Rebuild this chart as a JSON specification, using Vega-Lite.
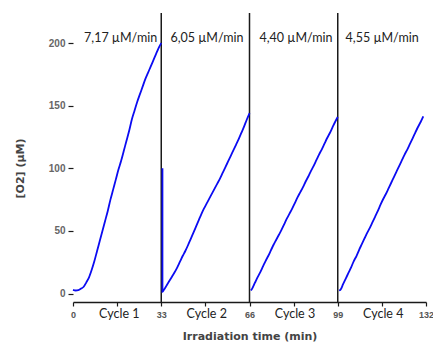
{
  "$schema": "https://vega.github.io/schema/vega-lite/v6.json",
  "autosize": {"type": "none"},
  "width": 353,
  "height": 289,
  "padding": {"left": 73, "top": 13, "right": 7, "bottom": 40},
  "background": "white",
  "config": {"view": {"stroke": null}},
  "datasets": {
    "o2": [
      {"t": 0, "o2": 3, "cycle": "1"}, {"t": 1, "o2": 2.5, "cycle": "1"}, {"t": 2, "o2": 2.8, "cycle": "1"}, {"t": 3, "o2": 4, "cycle": "1"}, {"t": 4, "o2": 5.5, "cycle": "1"}, {"t": 5, "o2": 9, "cycle": "1"}, {"t": 6, "o2": 13, "cycle": "1"}, {"t": 7, "o2": 19, "cycle": "1"}, {"t": 8, "o2": 26, "cycle": "1"}, {"t": 9, "o2": 34, "cycle": "1"}, {"t": 10, "o2": 42, "cycle": "1"}, {"t": 11, "o2": 50, "cycle": "1"}, {"t": 12, "o2": 58, "cycle": "1"}, {"t": 13, "o2": 66, "cycle": "1"}, {"t": 14, "o2": 75, "cycle": "1"}, {"t": 15, "o2": 83, "cycle": "1"}, {"t": 16, "o2": 91, "cycle": "1"}, {"t": 17, "o2": 99, "cycle": "1"}, {"t": 18, "o2": 106, "cycle": "1"}, {"t": 19, "o2": 114, "cycle": "1"}, {"t": 20, "o2": 122, "cycle": "1"}, {"t": 21, "o2": 130, "cycle": "1"}, {"t": 22, "o2": 139, "cycle": "1"}, {"t": 23, "o2": 146, "cycle": "1"}, {"t": 24, "o2": 153, "cycle": "1"}, {"t": 25, "o2": 159, "cycle": "1"}, {"t": 26, "o2": 165, "cycle": "1"}, {"t": 27, "o2": 171, "cycle": "1"}, {"t": 28, "o2": 176, "cycle": "1"}, {"t": 29, "o2": 181, "cycle": "1"}, {"t": 30, "o2": 186, "cycle": "1"}, {"t": 31, "o2": 191, "cycle": "1"}, {"t": 32, "o2": 196, "cycle": "1"}, {"t": 33, "o2": 200, "cycle": "1"},
      {"t": 33.45, "o2": 100, "cycle": "2"}, {"t": 33.45, "o2": 1.5, "cycle": "2"}, {"t": 34, "o2": 3, "cycle": "2"}, {"t": 35, "o2": 6.5, "cycle": "2"}, {"t": 36, "o2": 10, "cycle": "2"}, {"t": 37, "o2": 13.5, "cycle": "2"}, {"t": 38, "o2": 17, "cycle": "2"}, {"t": 39, "o2": 21, "cycle": "2"}, {"t": 40, "o2": 25.5, "cycle": "2"}, {"t": 41, "o2": 30, "cycle": "2"}, {"t": 42, "o2": 34, "cycle": "2"}, {"t": 43, "o2": 38.6, "cycle": "2"}, {"t": 44, "o2": 43.5, "cycle": "2"}, {"t": 45, "o2": 48.5, "cycle": "2"}, {"t": 46, "o2": 53.5, "cycle": "2"}, {"t": 47, "o2": 58.5, "cycle": "2"}, {"t": 48, "o2": 63.5, "cycle": "2"}, {"t": 49, "o2": 68, "cycle": "2"}, {"t": 50, "o2": 72, "cycle": "2"}, {"t": 51, "o2": 76, "cycle": "2"}, {"t": 52, "o2": 80, "cycle": "2"}, {"t": 53, "o2": 84, "cycle": "2"}, {"t": 54, "o2": 88, "cycle": "2"}, {"t": 55, "o2": 92, "cycle": "2"}, {"t": 56, "o2": 96.5, "cycle": "2"}, {"t": 57, "o2": 101, "cycle": "2"}, {"t": 58, "o2": 105.5, "cycle": "2"}, {"t": 59, "o2": 110, "cycle": "2"}, {"t": 60, "o2": 114.5, "cycle": "2"}, {"t": 61, "o2": 119, "cycle": "2"}, {"t": 62, "o2": 123.5, "cycle": "2"}, {"t": 63, "o2": 128.5, "cycle": "2"}, {"t": 64, "o2": 133.5, "cycle": "2"}, {"t": 65, "o2": 139, "cycle": "2"}, {"t": 66, "o2": 144, "cycle": "2"},
      {"t": 66.5, "o2": 2.5, "cycle": "3"}, {"t": 67, "o2": 4, "cycle": "3"}, {"t": 68, "o2": 8.5, "cycle": "3"}, {"t": 69, "o2": 13, "cycle": "3"}, {"t": 70, "o2": 17, "cycle": "3"}, {"t": 71, "o2": 21.5, "cycle": "3"}, {"t": 72, "o2": 26, "cycle": "3"}, {"t": 73, "o2": 30, "cycle": "3"}, {"t": 74, "o2": 34.5, "cycle": "3"}, {"t": 75, "o2": 39, "cycle": "3"}, {"t": 76, "o2": 43, "cycle": "3"}, {"t": 77, "o2": 47, "cycle": "3"}, {"t": 78, "o2": 51, "cycle": "3"}, {"t": 79, "o2": 55.5, "cycle": "3"}, {"t": 80, "o2": 60, "cycle": "3"}, {"t": 81, "o2": 64, "cycle": "3"}, {"t": 82, "o2": 68, "cycle": "3"}, {"t": 83, "o2": 72.5, "cycle": "3"}, {"t": 84, "o2": 77, "cycle": "3"}, {"t": 85, "o2": 81, "cycle": "3"}, {"t": 86, "o2": 85, "cycle": "3"}, {"t": 87, "o2": 89.5, "cycle": "3"}, {"t": 88, "o2": 93.5, "cycle": "3"}, {"t": 89, "o2": 98, "cycle": "3"}, {"t": 90, "o2": 102, "cycle": "3"}, {"t": 91, "o2": 106.5, "cycle": "3"}, {"t": 92, "o2": 111, "cycle": "3"}, {"t": 93, "o2": 115, "cycle": "3"}, {"t": 94, "o2": 119.5, "cycle": "3"}, {"t": 95, "o2": 124, "cycle": "3"}, {"t": 96, "o2": 128, "cycle": "3"}, {"t": 97, "o2": 132.5, "cycle": "3"}, {"t": 98, "o2": 137, "cycle": "3"}, {"t": 99, "o2": 141, "cycle": "3"},
      {"t": 99.5, "o2": 2.5, "cycle": "4"}, {"t": 100, "o2": 3, "cycle": "4"}, {"t": 101, "o2": 7.5, "cycle": "4"}, {"t": 102, "o2": 12, "cycle": "4"}, {"t": 103, "o2": 16.5, "cycle": "4"}, {"t": 104, "o2": 21, "cycle": "4"}, {"t": 105, "o2": 26, "cycle": "4"}, {"t": 106, "o2": 30, "cycle": "4"}, {"t": 107, "o2": 35, "cycle": "4"}, {"t": 108, "o2": 39.5, "cycle": "4"}, {"t": 109, "o2": 44, "cycle": "4"}, {"t": 110, "o2": 48.5, "cycle": "4"}, {"t": 111, "o2": 52.5, "cycle": "4"}, {"t": 112, "o2": 57, "cycle": "4"}, {"t": 113, "o2": 61.5, "cycle": "4"}, {"t": 114, "o2": 66, "cycle": "4"}, {"t": 115, "o2": 71, "cycle": "4"}, {"t": 116, "o2": 75.5, "cycle": "4"}, {"t": 117, "o2": 79.5, "cycle": "4"}, {"t": 118, "o2": 84, "cycle": "4"}, {"t": 119, "o2": 88.5, "cycle": "4"}, {"t": 120, "o2": 93, "cycle": "4"}, {"t": 121, "o2": 97.5, "cycle": "4"}, {"t": 122, "o2": 102, "cycle": "4"}, {"t": 123, "o2": 106.5, "cycle": "4"}, {"t": 124, "o2": 111, "cycle": "4"}, {"t": 125, "o2": 115, "cycle": "4"}, {"t": 126, "o2": 119.5, "cycle": "4"}, {"t": 127, "o2": 124, "cycle": "4"}, {"t": 128, "o2": 128.5, "cycle": "4"}, {"t": 129, "o2": 133, "cycle": "4"}, {"t": 130, "o2": 137, "cycle": "4"}, {"t": 131, "o2": 141.5, "cycle": "4"}
    ],
    "bounds": [{"t": 33}, {"t": 66}, {"t": 99}],
    "rates": [
      {"t": 17.8, "label": "7,17 µM/min"},
      {"t": 50.1, "label": "6,05 µM/min"},
      {"t": 83.4, "label": "4,40 µM/min"},
      {"t": 115.6, "label": "4,55 µM/min"}
    ],
    "cycles": [
      {"t": 17.3, "label": "Cycle 1"},
      {"t": 50, "label": "Cycle 2"},
      {"t": 83, "label": "Cycle 3"},
      {"t": 116, "label": "Cycle 4"}
    ]
  },
  "layer": [
    {
      "data": {"name": "bounds"},
      "mark": {"type": "rule", "color": "#1a1a1a", "strokeWidth": 1.5},
      "encoding": {
        "x": {
          "field": "t", "type": "quantitative",
          "scale": {"domain": [0, 132], "nice": false, "zero": false},
          "axis": {
            "values": [0, 16.5, 33, 49.5, 66, 82.5, 99, 115.5, 132],
            "labelExpr": "datum.value % 33 === 0 ? format(datum.value, 'd') : ''",
            "grid": false,
            "domainColor": "#1a1a1a", "domainWidth": 1.5,
            "tickColor": "#1a1a1a", "tickWidth": 1.2, "tickSize": 4,
            "labelFont": "Liberation Sans", "labelFontSize": 9, "labelFontWeight": "bold", "labelColor": "#555555",
            "labelPadding": 4, "labelFlush": false, "labelOverlap": false,
            "title": "Irradiation time (min)",
            "titleFont": "DejaVu Sans", "titleFontSize": 11, "titleFontWeight": "bold", "titleColor": "#444444",
            "titleBaseline": "middle", "titleY": 34
          }
        }
      }
    },
    {
      "mark": {"type": "rule", "color": "#1a1a1a", "strokeWidth": 1.5},
      "encoding": {
        "x": {"datum": 0, "type": "quantitative"},
        "y": {"datum": -6.7, "type": "quantitative"},
        "y2": {"datum": 200}
      }
    },
    {
      "data": {"name": "o2"},
      "mark": {"type": "line", "color": "#0b0bf2", "strokeWidth": 1.8, "interpolate": "monotone"},
      "encoding": {
        "x": {"field": "t", "type": "quantitative"},
        "y": {
          "field": "o2", "type": "quantitative",
          "scale": {"domain": [-6.7, 224], "nice": false, "zero": false},
          "axis": {
            "values": [0, 25, 50, 75, 100, 125, 150, 175, 200],
            "labelExpr": "datum.value % 50 === 0 ? format(datum.value, 'd') : ''",
            "grid": false, "domain": false,
            "tickColor": "#1a1a1a", "tickWidth": 1.2, "tickSize": 5,
            "labelFont": "Liberation Sans", "labelFontSize": 10, "labelFontWeight": "bold", "labelColor": "#666666",
            "labelPadding": 3,
            "title": "[O2] (µM)",
            "titleFont": "DejaVu Sans", "titleFontSize": 11, "titleFontWeight": "bold", "titleColor": "#444444",
            "titleAngle": -90, "titleAlign": "center", "titleBaseline": "middle",
            "titleX": -53, "titleY": 155
          }
        },
        "detail": {"field": "cycle"}
      }
    },
    {
      "data": {"name": "rates"},
      "mark": {"type": "text", "font": "Lato", "fontSize": 12.5, "color": "#222222", "baseline": "alphabetic", "align": "center"},
      "encoding": {
        "x": {"field": "t", "type": "quantitative"},
        "y": {"datum": 200.5, "type": "quantitative"},
        "text": {"field": "label"}
      }
    },
    {
      "data": {"name": "cycles"},
      "mark": {"type": "text", "font": "Lato", "fontSize": 12.5, "color": "#222222", "baseline": "alphabetic", "align": "center"},
      "encoding": {
        "x": {"field": "t", "type": "quantitative"},
        "y": {"datum": -19.7, "type": "quantitative"},
        "text": {"field": "label"}
      }
    }
  ]
}
